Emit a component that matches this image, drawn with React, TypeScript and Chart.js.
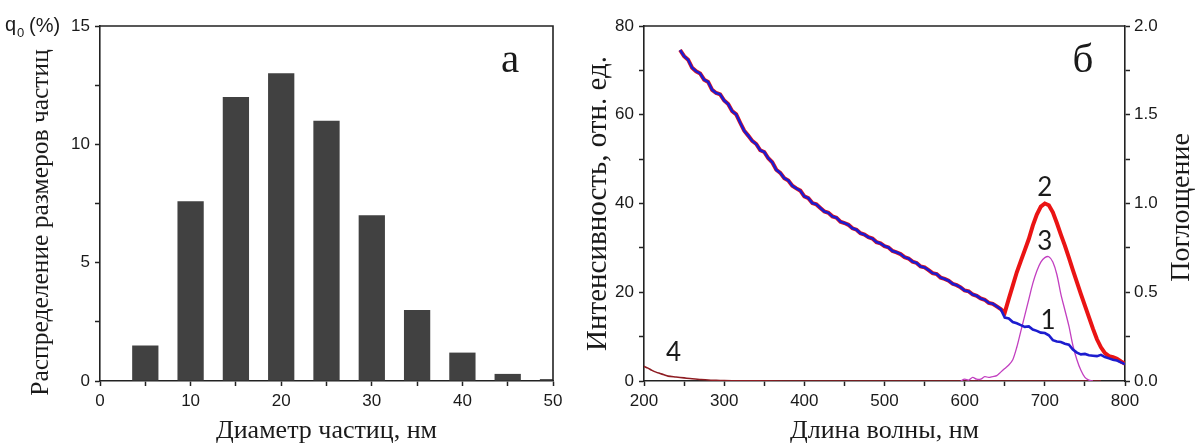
import { useEffect, useRef } from "react";
import { Chart, registerables } from "chart.js";

Chart.register(...registerables);

// ---------- Panel (а): particle size distribution ----------
const diameters = [5, 10, 15, 20, 25, 30, 35, 40, 45, 50];
const sizeShares = [1.5, 7.6, 12, 13, 11, 7, 3, 1.2, 0.3, 0.08];
const leftXMajor = [0, 10, 20, 30, 40, 50];
const leftYMajor = [0, 5, 10, 15];

// ---------- Panel (б): spectra ----------
const wlIntensity = [
  245, 250, 255, 260, 265, 270, 275, 280, 285, 290, 295, 300,
  305, 310, 315, 320, 325, 330, 335, 340, 345, 350, 355, 360,
  365, 370, 375, 380, 385, 390, 395, 400, 405, 410, 415, 420,
  425, 430, 435, 440, 445, 450, 455, 460, 465, 470, 475, 480,
  485, 490, 495, 500, 505, 510, 515, 520, 525, 530, 535, 540,
  545, 550, 555, 560, 565, 570, 575, 580, 585, 590, 595, 600,
  605, 610, 615, 620, 625, 630, 635, 640, 645, 650, 655, 660,
  665, 670, 675, 680, 685, 690, 695, 700, 705, 710, 715, 720,
  725, 730, 735, 740, 745, 750, 755, 760, 765, 770, 775, 780,
  785, 790, 795, 800,
];
// curve 1 (blue)
const intensity1 = [
  74.6, 73.2, 72.4, 70.6, 69.8, 69.3, 67.9, 67.4, 65.6, 64.9, 64.6, 63.2,
  62.4, 60.8, 60.1, 58.2, 56.4, 55.3, 54.1, 53.4, 52.0, 51.6, 50.2, 49.3,
  47.6, 46.9, 45.7, 45.2, 44.0, 43.4, 42.9, 41.6, 41.2, 40.1, 39.8, 39.0,
  38.2, 37.9, 37.1, 36.8, 35.9, 35.6, 35.2, 34.4, 34.1, 33.3, 33.0, 32.4,
  32.1, 31.3, 31.0, 30.4, 30.1, 29.3, 29.0, 28.6, 27.9, 27.6, 26.9, 26.6,
  25.8, 25.6, 25.0, 24.3, 24.1, 23.3, 23.0, 22.6, 21.9, 21.6, 21.1, 20.4,
  20.2, 19.5, 19.2, 18.6, 18.3, 17.6, 17.4, 16.8, 16.2, 14.3, 14.1, 13.3,
  13.0, 12.6, 12.2, 12.3, 11.6, 11.3, 10.9, 10.8, 10.3, 9.2, 8.9, 8.8,
  8.4, 8.2, 7.1, 6.4, 6.0, 6.1, 5.8, 5.7, 5.6, 5.9, 5.4, 5.1,
  4.8, 4.6, 4.2, 3.8,
];
// curve 2 (red): identical to curve 1 below 650 nm, then these values from 650 to 800 nm
const intensity2Tail = [
  15.4, 18.5, 21.5, 24.5, 27.0, 29.5, 32.0, 35.0, 37.5, 39.3, 40.0, 39.6,
  38.0, 35.6, 33.0, 30.5, 27.8, 25.0, 22.3, 19.6, 17.0, 14.4, 11.8, 9.4,
  7.6, 6.3, 5.6, 5.4, 5.0, 4.4, 3.9,
];
// curve 3 (magenta, absorbance, right axis)
const wlAbs3 = [
  595, 600, 605, 610, 615, 620, 625, 630, 635, 640, 645, 650,
  655, 660, 665, 670, 675, 680, 685, 690, 695, 700, 705, 710,
  715, 720, 725, 730, 735, 740, 745, 750, 755, 760,
];
const absorbance3 = [
  0, 0.01, 0.005, 0.02, 0.01, 0.01, 0.025, 0.02, 0.025, 0.03, 0.05, 0.07,
  0.09, 0.12, 0.19, 0.28, 0.37, 0.46, 0.55, 0.62, 0.67, 0.695, 0.70, 0.67,
  0.60, 0.49, 0.40, 0.31, 0.20, 0.12, 0.06, 0.02, 0.005, 0,
];
// curve 4 (dark red)
const wl4 = [200, 205, 210, 215, 220, 225, 230, 240, 250, 260, 270, 280, 290, 300, 320, 350, 400, 500, 600, 700, 770];
const intensity4 = [3.3, 2.9, 2.4, 2.0, 1.7, 1.4, 1.1, 0.9, 0.7, 0.5, 0.35, 0.22, 0.15, 0.1, 0.05, 0.02, 0, 0, 0, 0, 0];

const rightXMajor = [200, 300, 400, 500, 600, 700, 800];
const rightYMajor = [0, 20, 40, 60, 80];
const rightY1Major = [0, 0.5, 1, 1.5, 2];

// ---------- styling ----------
const SANS = "Liberation Sans";
const SERIF = "Liberation Serif";
const LABEL_FONT = "Lato";
const AXIS = "#222222";
const TEXT = "#1a1a1a";
const BAR = "#414141";
const BLUE = "#1c1ccf";
const RED = "#ea1414";
const MAGENTA = "#c23fc0";
const MAROON = "#8e1c22";

function axis(opts: any, ticks: any) {
  return {
    type: "linear",
    border: { display: true, color: AXIS, width: 1.6 },
    grid: {
      display: true,
      drawOnChartArea: false,
      drawTicks: true,
      tickLength: 5,
      tickColor: AXIS,
      tickWidth: 1.5,
      offset: false,
    },
    ticks: {
      color: TEXT,
      font: { family: SANS, size: 17 },
      padding: 5,
      autoSkip: false,
      maxRotation: 0,
      ...ticks,
    },
    ...opts,
  };
}

function axisTitle(text: string, size: number, padding: any) {
  return {
    display: true,
    text,
    color: TEXT,
    font: { family: SERIF, size, lineHeight: 1.1 },
    padding,
  };
}

function verticalText(ctx: any, text: string, cx: number, cy: number, font: string) {
  ctx.save();
  ctx.font = font;
  ctx.fillStyle = TEXT;
  ctx.textAlign = "center";
  ctx.textBaseline = "middle";
  ctx.translate(cx, cy);
  ctx.rotate(-Math.PI / 2);
  ctx.fillText(text, 0, 0);
  ctx.restore();
}

const leftDecor = {
  id: "leftDecor",
  afterDraw(chart: any) {
    const { ctx, chartArea: a } = chart;
    ctx.save();
    ctx.strokeStyle = AXIS;
    ctx.lineWidth = 1.6;
    ctx.beginPath();
    ctx.moveTo(a.left, a.top);
    ctx.lineTo(a.right, a.top);
    ctx.lineTo(a.right, a.bottom);
    ctx.stroke();

    ctx.fillStyle = TEXT;
    ctx.textAlign = "left";
    ctx.textBaseline = "alphabetic";
    ctx.font = `20px "${SANS}"`;
    ctx.fillText("q", 5, 31);
    ctx.font = `13px "${SANS}"`;
    ctx.fillText("0", 17, 37);
    ctx.font = `20px "${SANS}"`;
    ctx.fillText("(%)", 29, 32);

    ctx.font = `41px "${SERIF}"`;
    ctx.textAlign = "center";
    ctx.fillText("а", a.right - 43, a.top + 46);
    ctx.restore();

    // y-axis title (offset downward like in the original figure)
    verticalText(ctx, "Распределение размеров частиц", 41, (a.top + a.bottom) / 2 + 19, `25.5px "${SERIF}"`);
  },
};

const rightDecor = {
  id: "rightDecor",
  afterDraw(chart: any) {
    const { ctx, chartArea: a, scales } = chart;
    const x = scales.x;
    const y = scales.y;
    ctx.save();
    ctx.strokeStyle = AXIS;
    ctx.lineWidth = 1.6;
    ctx.beginPath();
    ctx.moveTo(a.left, a.top);
    ctx.lineTo(a.right, a.top);
    ctx.stroke();

    ctx.fillStyle = TEXT;
    ctx.font = `41px "${SERIF}"`;
    ctx.textAlign = "center";
    ctx.textBaseline = "alphabetic";
    ctx.fillText("б", a.right - 42, a.top + 46);

    ctx.font = `26px "${LABEL_FONT}"`;
    ctx.textBaseline = "middle";
    const labels: [string, number, number][] = [
      ["2", 700, 43.5],
      ["3", 700, 31.5],
      ["1", 704, 13.5],
      ["4", 237, 6.3],
    ];
    for (const [t, vx, vy] of labels) {
      ctx.fillText(t, x.getPixelForValue(vx), y.getPixelForValue(vy));
    }
    ctx.restore();

    verticalText(ctx, "Поглощение", chart.width - 15, (a.top + a.bottom) / 2 + 4, `28px "${SERIF}"`);
  },
};

function leftConfig(): any {
  return {
    type: "bar",
    data: {
      datasets: [
        {
          data: diameters.map((x, i) => ({ x, y: sizeShares[i] })),
          backgroundColor: BAR,
          borderWidth: 0,
          categoryPercentage: 1,
          barPercentage: 0.58,
        },
      ],
    },
    options: {
      animation: false,
      responsive: false,
      devicePixelRatio: 1,
      layout: { padding: { top: 26, right: 27, left: 0, bottom: 0 } },
      plugins: { legend: { display: false }, tooltip: { enabled: false } },
      scales: {
        x: axis(
          {
            min: 0,
            max: 50,
            offset: false,
            title: axisTitle("Диаметр частиц, нм", 26, { top: 0, bottom: 0 }),
            afterFit: (s: any) => {
              s.height = 64;
            },
          },
          {
            stepSize: 5,
            padding: 5,
            callback: (v: number) => (leftXMajor.includes(v) ? String(v) : ""),
          }
        ),
        y: axis(
          {
            min: 0,
            max: 15,
            afterFit: (s: any) => {
              s.width = 100;
            },
          },
          {
            stepSize: 2.5,
            callback: (v: number) => (leftYMajor.includes(v) ? String(v) : ""),
          }
        ),
      },
    },
    plugins: [leftDecor],
  };
}

function rightConfig(): any {
  const cut = wlIntensity.indexOf(650);
  const intensity2 = intensity1.slice(0, cut).concat(intensity2Tail);
  return {
    type: "line",
    data: {
      datasets: [
        {
          data: wlIntensity.map((x, i) => ({ x, y: intensity1[i] })),
          borderColor: BLUE,
          borderWidth: 2.6,
          pointRadius: 0,
          tension: 0,
          yAxisID: "y",
        },
        {
          data: wlAbs3.map((x, i) => ({ x, y: absorbance3[i] })),
          borderColor: MAGENTA,
          borderWidth: 1.3,
          pointRadius: 0,
          tension: 0.3,
          yAxisID: "y1",
        },
        {
          data: wlIntensity.map((x, i) => ({ x, y: intensity2[i] })),
          borderColor: RED,
          borderWidth: 4,
          pointRadius: 0,
          tension: 0,
          yAxisID: "y",
        },
        {
          data: wl4.map((x, i) => ({ x, y: intensity4[i] })),
          borderColor: MAROON,
          borderWidth: 1.6,
          pointRadius: 0,
          tension: 0.3,
          yAxisID: "y",
        },
      ],
    },
    options: {
      animation: false,
      responsive: false,
      devicePixelRatio: 1,
      layout: { padding: { top: 26, right: 0, left: 0, bottom: 0 } },
      plugins: { legend: { display: false }, tooltip: { enabled: false } },
      scales: {
        x: axis(
          {
            min: 200,
            max: 800,
            title: axisTitle("Длина волны, нм", 26, { top: 0, bottom: 0 }),
            afterFit: (s: any) => {
              s.height = 64;
            },
          },
          {
            stepSize: 50,
            padding: 5,
            callback: (v: number) => (rightXMajor.includes(v) ? String(v) : ""),
          }
        ),
        y: axis(
          {
            min: 0,
            max: 80,
            position: "left",
            title: axisTitle("Интенсивность, отн. ед.", 29, { top: 2, bottom: 0 }),
            afterFit: (s: any) => {
              s.width = 64;
            },
          },
          {
            stepSize: 10,
            callback: (v: number) => (rightYMajor.includes(v) ? String(v) : ""),
          }
        ),
        y1: axis(
          {
            min: 0,
            max: 2,
            position: "right",
            afterFit: (s: any) => {
              s.width = 72;
            },
          },
          {
            stepSize: 0.25,
            padding: 4,
            callback: (v: number) => (rightY1Major.includes(v) ? v.toFixed(1) : ""),
          }
        ),
      },
    },
    plugins: [rightDecor],
  };
}

export default function App() {
  const leftRef = useRef<HTMLCanvasElement>(null);
  const rightRef = useRef<HTMLCanvasElement>(null);

  useEffect(() => {
    const c1 = new Chart(leftRef.current as HTMLCanvasElement, leftConfig());
    const c2 = new Chart(rightRef.current as HTMLCanvasElement, rightConfig());
    return () => {
      c1.destroy();
      c2.destroy();
    };
  }, []);

  return (
    <div
      style={{
        position: "fixed",
        left: 0,
        top: 0,
        width: 1197,
        height: 445,
        background: "#fff",
      }}
    >
      <canvas
        ref={leftRef}
        width={580}
        height={445}
        style={{ position: "absolute", left: 0, top: 0, width: 580, height: 445 }}
      />
      <canvas
        ref={rightRef}
        width={617}
        height={445}
        style={{ position: "absolute", left: 580, top: 0, width: 617, height: 445 }}
      />
    </div>
  );
}
